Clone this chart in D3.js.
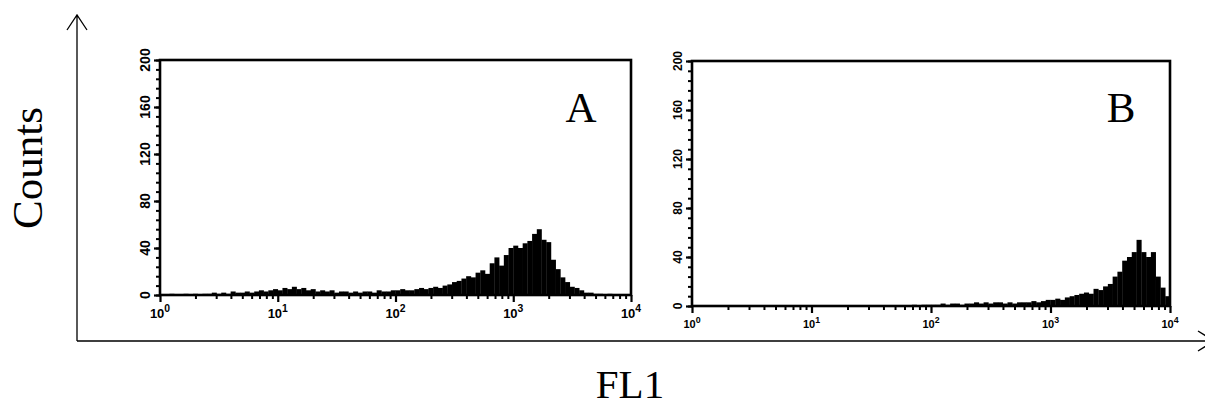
<!DOCTYPE html>
<html>
<head>
    <title>FL1 histograms</title>
    <script src="https://d3js.org/d3.v7.min.js"></script>
    <style>
        body { margin: 0; background: #fff; }
        .big-label { font-family: "Liberation Serif", "Times New Roman", serif; font-size: 43px; fill: #000; }
        .tick-label { font-family: "Liberation Sans", Arial, sans-serif; font-weight: bold; fill: #000; }
    </style>
</head>
<body>
    <div id="graph"></div>
    <script>
        // histogram counts, 100 log-spaced channels from 10^0 to 10^4
        const countsA = [
            0, 0, 1, 0, 0, 1, 0, 1, 0, 1,
            1, 2, 1, 2, 1, 3, 2, 2, 3, 2,
            3, 4, 3, 4, 5, 4, 6, 5, 7, 5,
            6, 4, 5, 3, 4, 3, 4, 2, 3, 3,
            2, 3, 2, 3, 3, 2, 4, 3, 3, 4,
            4, 5, 4, 4, 5, 6, 5, 6, 7, 6,
            8, 9, 11, 12, 14, 16, 15, 19, 21, 18,
            27, 32, 25, 34, 40, 42, 40, 44, 46, 52,
            56, 47, 45, 30, 22, 15, 11, 7, 6, 4,
            2, 2, 1, 1, 0, 1, 0, 0, 0, 0
        ];
        const countsB = [
            0, 0, 0, 0, 0, 0, 0, 0, 0, 0,
            0, 0, 0, 0, 0, 0, 0, 0, 0, 0,
            0, 0, 0, 0, 0, 0, 0, 0, 0, 0,
            0, 0, 0, 0, 0, 0, 0, 0, 0, 0,
            0, 0, 0, 0, 0, 0, 1, 0, 1, 1,
            1, 1, 2, 1, 2, 2, 1, 2, 2, 3,
            2, 3, 2, 3, 3, 2, 3, 2, 3, 3,
            3, 4, 3, 4, 5, 5, 6, 5, 7, 8,
            9, 10, 11, 10, 14, 13, 16, 18, 24, 28,
            37, 40, 44, 54, 44, 40, 44, 24, 15, 8
        ];
        const yTicks = [0, 40, 80, 120, 160, 200];
        const xDecades = [0, 1, 2, 3, 4];
        const panelNames = ["A", "B"];

        const W = 1205, H = 409;
        const svg = d3.select("#graph").append("svg")
            .attr("width", W)
            .attr("height", H);

        // overall axes with open arrow heads
        const outer = svg.append("g").attr("stroke", "#000").attr("fill", "none").attr("stroke-width", 1.3);
        outer.append("path").attr("d", "M77,341V15M67,30L77,15L87,30");
        outer.append("path").attr("d", "M77,341H1214M1198,331L1214,341L1198,351");

        svg.append("text")
            .attr("class", "big-label")
            .attr("text-anchor", "middle")
            .attr("transform", "translate(42,168) rotate(-90)")
            .text("Counts");

        svg.append("text")
            .attr("class", "big-label")
            .attr("text-anchor", "middle")
            .attr("x", 630)
            .attr("y", 398)
            .style("font-size", "41px")
            .text("FL1");

        function drawPanel(counts, name, box) {
            const x = d3.scaleLog().domain([1, 1e4]).range([box.left, box.right]);
            const y = d3.scaleLinear().domain([0, 200]).range([box.bottom, box.top]);
            const g = svg.append("g");
            const n = counts.length;

            // histogram bars
            g.append("g")
                .selectAll("rect")
                .data(counts)
                .join("rect")
                .attr("x", (d, i) => x(Math.pow(10, i * 4 / n)))
                .attr("width", (d, i) => x(Math.pow(10, (i + 1) * 4 / n)) - x(Math.pow(10, i * 4 / n)) + 0.3)
                .attr("y", d => y(d))
                .attr("height", d => y(0) - y(d))
                .attr("fill", "#000");

            // frame
            g.append("rect")
                .attr("x", box.left)
                .attr("y", box.top)
                .attr("width", box.right - box.left)
                .attr("height", box.bottom - box.top)
                .attr("fill", "none")
                .attr("stroke", "#000")
                .attr("stroke-width", 2.6);

            // y axis: minor every 8, major every 40
            const minorY = d3.range(0, 201, 8);
            g.append("g")
                .attr("transform", "translate(" + box.left + ",0)")
                .call(d3.axisLeft(y).tickValues(minorY).tickSize(4).tickFormat(""))
                .call(a => a.select(".domain").remove())
                .selectAll("line").attr("stroke-width", 2);
            g.append("g")
                .attr("transform", "translate(" + box.left + ",0)")
                .call(d3.axisLeft(y).tickValues(yTicks).tickSize(6).tickFormat(""))
                .call(a => a.select(".domain").remove())
                .selectAll("line").attr("stroke-width", 2.2);

            g.append("g")
                .selectAll("text")
                .data(yTicks)
                .join("text")
                .attr("class", "tick-label")
                .attr("font-size", box.yFont)
                .attr("text-anchor", "middle")
                .attr("transform", d => "translate(" + (box.left - 10) + "," + y(d) + ") rotate(-90)")
                .text(d => d);

            // x axis: log minor ticks and decade ticks
            const minorX = [];
            xDecades.slice(0, -1).forEach(e => {
                for (let k = 2; k < 10; k++) minorX.push(k * Math.pow(10, e));
            });
            g.append("g")
                .attr("transform", "translate(0," + box.bottom + ")")
                .call(d3.axisBottom(x).tickValues(minorX).tickSize(4).tickFormat(""))
                .call(a => a.select(".domain").remove())
                .selectAll("line").attr("stroke-width", 2);
            g.append("g")
                .attr("transform", "translate(0," + box.bottom + ")")
                .call(d3.axisBottom(x).tickValues(xDecades.map(e => Math.pow(10, e))).tickSize(7).tickFormat(""))
                .call(a => a.select(".domain").remove())
                .selectAll("line").attr("stroke-width", 2.2);

            const xl = g.append("g")
                .selectAll("text")
                .data(xDecades)
                .join("text")
                .attr("class", "tick-label")
                .attr("font-size", box.xFont)
                .attr("text-anchor", "middle")
                .attr("x", d => x(Math.pow(10, d)))
                .attr("y", box.bottom + box.xLabelDy);
            xl.append("tspan").text("10");
            xl.append("tspan")
                .attr("font-size", box.xFont * 0.8)
                .attr("dy", -box.xFont * 0.45)
                .text(d => d);

            g.append("text")
                .attr("class", "big-label")
                .attr("text-anchor", "middle")
                .attr("x", box.labelX)
                .attr("y", 122)
                .text(name);
        }

        drawPanel(countsA, panelNames[0], { left: 160, right: 631, top: 60, bottom: 295, yFont: 14, xFont: 13, xLabelDy: 23, labelX: 581 });
        drawPanel(countsB, panelNames[1], { left: 692, right: 1170, top: 61, bottom: 306, yFont: 12, xFont: 11, xLabelDy: 22, labelX: 1121 });
    </script>
</body>
</html>
